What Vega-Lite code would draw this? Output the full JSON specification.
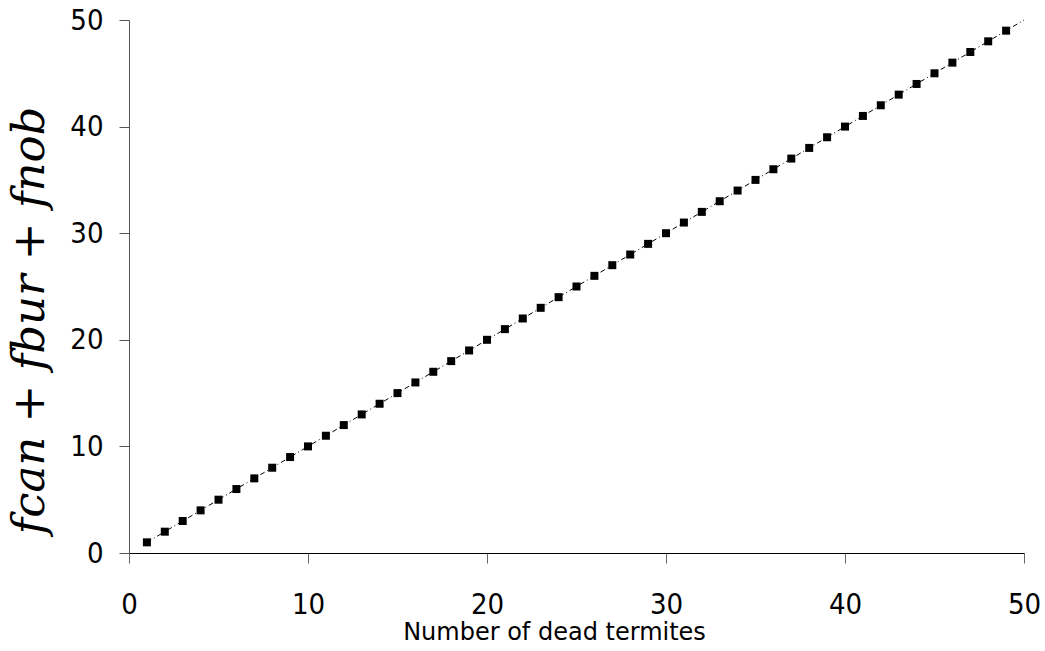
{
  "$schema": "https://vega.github.io/schema/vega-lite/v6.json",
  "width": 895,
  "height": 533,
  "autosize": {"type": "none"},
  "padding": {"left": 129, "top": 20, "right": 21, "bottom": 98},
  "background": "white",
  "config": {"view": {"stroke": null}, "axisY": {"titleFont": "DejaVu Serif"}},
  "datasets": {
    "pts": [
      {"n": 1, "f": 1}, {"n": 2, "f": 2}, {"n": 3, "f": 3}, {"n": 4, "f": 4}, {"n": 5, "f": 5},
      {"n": 6, "f": 6}, {"n": 7, "f": 7}, {"n": 8, "f": 8}, {"n": 9, "f": 9}, {"n": 10, "f": 10},
      {"n": 11, "f": 11}, {"n": 12, "f": 12}, {"n": 13, "f": 13}, {"n": 14, "f": 14}, {"n": 15, "f": 15},
      {"n": 16, "f": 16}, {"n": 17, "f": 17}, {"n": 18, "f": 18}, {"n": 19, "f": 19}, {"n": 20, "f": 20},
      {"n": 21, "f": 21}, {"n": 22, "f": 22}, {"n": 23, "f": 23}, {"n": 24, "f": 24}, {"n": 25, "f": 25},
      {"n": 26, "f": 26}, {"n": 27, "f": 27}, {"n": 28, "f": 28}, {"n": 29, "f": 29}, {"n": 30, "f": 30},
      {"n": 31, "f": 31}, {"n": 32, "f": 32}, {"n": 33, "f": 33}, {"n": 34, "f": 34}, {"n": 35, "f": 35},
      {"n": 36, "f": 36}, {"n": 37, "f": 37}, {"n": 38, "f": 38}, {"n": 39, "f": 39}, {"n": 40, "f": 40},
      {"n": 41, "f": 41}, {"n": 42, "f": 42}, {"n": 43, "f": 43}, {"n": 44, "f": 44}, {"n": 45, "f": 45},
      {"n": 46, "f": 46}, {"n": 47, "f": 47}, {"n": 48, "f": 48}, {"n": 49, "f": 49}
    ],
    "trend": [{"n": 1, "f": 1}, {"n": 50, "f": 50}]
  },
  "layer": [
    {
      "data": {"name": "trend"},
      "mark": {"type": "line", "color": "black", "strokeWidth": 1, "strokeDash": [5, 3, 1, 3]},
      "encoding": {
        "x": {"field": "n", "type": "quantitative"},
        "y": {"field": "f", "type": "quantitative"}
      }
    },
    {
      "data": {"name": "pts"},
      "mark": {"type": "point", "shape": "square", "filled": true, "color": "black", "size": 64, "opacity": 1},
      "encoding": {
        "x": {
          "field": "n", "type": "quantitative",
          "scale": {"domain": [0, 50], "nice": false, "zero": true},
          "axis": {
            "title": "Number of dead termites",
            "values": [0, 10, 20, 30, 40, 50],
            "grid": false,
            "domainColor": "black", "domainWidth": 1,
            "tickColor": "#666666", "tickSize": 10, "tickWidth": 1,
            "labelFont": "DejaVu Sans Condensed", "labelFontSize": 29, "labelColor": "black",
            "labelBaseline": "alphabetic", "labelPadding": 50, "labelFlush": false,
            "titleFont": "DejaVu Sans", "titleFontSize": 24, "titleFontWeight": "normal", "titleColor": "black",
            "titleBaseline": "alphabetic", "titleAlign": "center", "titleAnchor": null,
            "titleX": 425, "titleY": 86
          }
        },
        "y": {
          "field": "f", "type": "quantitative",
          "scale": {"domain": [0, 50], "nice": false, "zero": true},
          "axis": {
            "title": "fcan + fbur + fnob",
            "values": [0, 10, 20, 30, 40, 50],
            "grid": false,
            "domainColor": "#555555", "domainWidth": 1,
            "tickColor": "#555555", "tickSize": 10, "tickWidth": 1,
            "labelFont": "DejaVu Sans Condensed", "labelFontSize": 29, "labelColor": "black",
            "labelPadding": 16, "labelFlush": false,
            "titleFontStyle": "italic", "titleFontSize": 45, "titleFontWeight": "normal",
            "titleColor": "black", "titleAngle": 270, "titleBaseline": "alphabetic", "titleAlign": "center", "titleAnchor": null,
            "titleX": -86, "titleY": 300
          }
        }
      }
    }
  ]
}
